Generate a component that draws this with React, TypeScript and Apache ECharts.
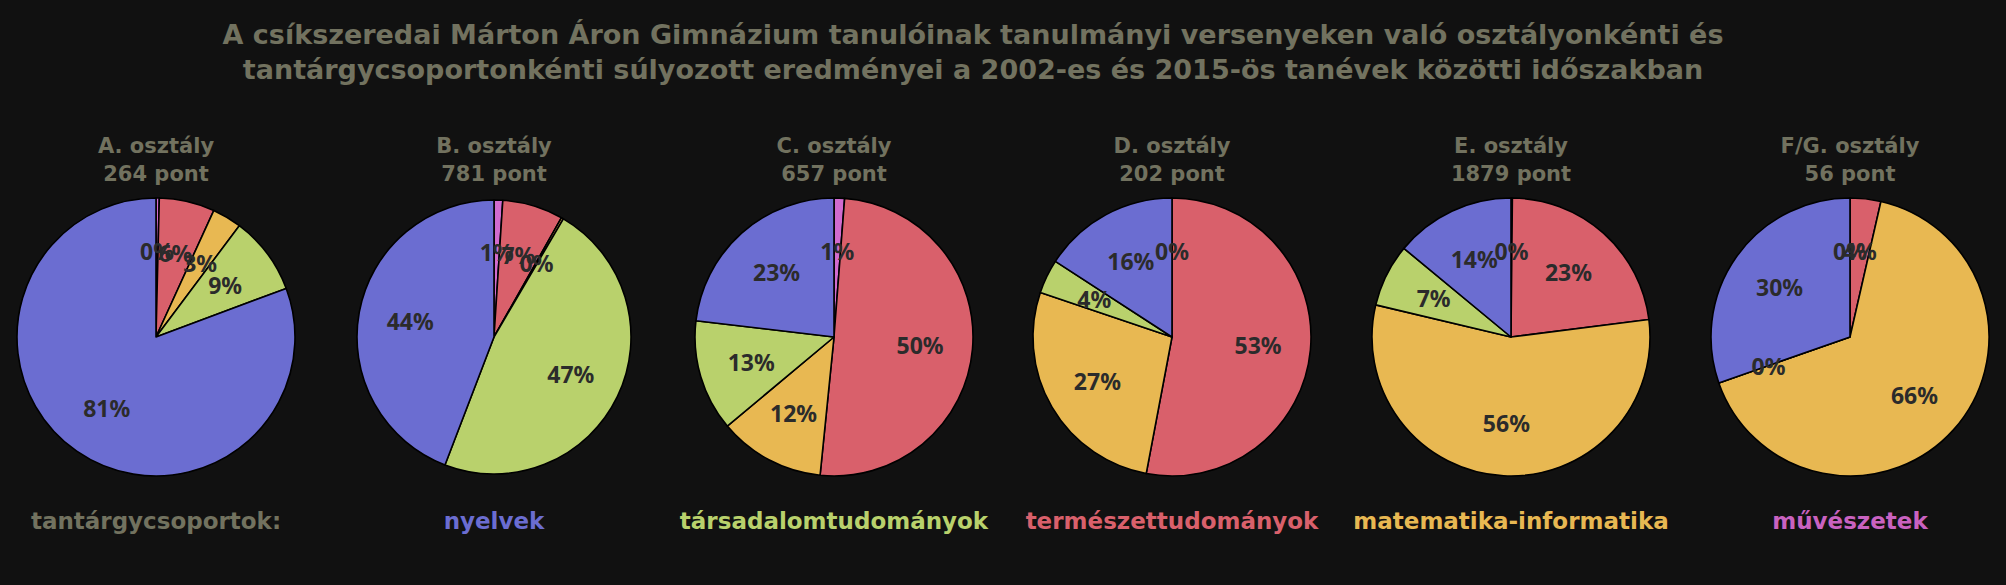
import React, { useEffect, useRef } from "react";
import * as echarts from "echarts";

const titleLines = [
  "A csíkszeredai Márton Áron Gimnázium tanulóinak tanulmányi versenyeken való osztályonkénti és",
  "tantárgycsoportonkénti súlyozott eredményei a 2002-es és 2015-ös tanévek közötti időszakban",
];
const classNames = ["A. osztály", "B. osztály", "C. osztály", "D. osztály", "E. osztály", "F/G. osztály"];
const classTotals = [264, 781, 657, 202, 1879, 56];

// categories in pie order (clockwise from 12 o'clock)
const categories = ["művészetek", "természettudományok", "matematika-informatika", "társadalomtudományok", "nyelvek"];
const muveszetek = [1, 8, 8, 0, 3, 0];
const termeszettudomanyok = [17, 56, 331, 107, 429, 2];
const matematikaInformatika = [9, 2, 81, 55, 1047, 37];
const tarsadalomtudomanyok = [24, 370, 85, 8, 137, 0];
const nyelvek = [213, 345, 152, 32, 263, 17];
const seriesValues = [muveszetek, termeszettudomanyok, matematikaInformatika, tarsadalomtudomanyok, nyelvek];

const legendLabel = "tantárgycsoportok:";
const legendOrder = ["nyelvek", "társadalomtudományok", "természettudományok", "matematika-informatika", "művészetek"];

// styles / layout
const colors: Record<string, string> = {
  "művészetek": "#d26bce",
  "természettudományok": "#d9606b",
  "matematika-informatika": "#e8b852",
  "társadalomtudományok": "#b9d16c",
  "nyelvek": "#6b6dd1",
};
const legendColors: Record<string, string> = {
  "művészetek": "#c962c0",
  "természettudományok": "#d9606b",
  "matematika-informatika": "#e8b852",
  "társadalomtudományok": "#b9d16c",
  "nyelvek": "#6b6dd1",
};
const centersX = [156, 494, 834, 1172, 1511, 1850];
const centerY = 337;
const radii = [139, 137, 139, 139, 139, 139];
const textColor = "#72725f";
const TFONT = "'DejaVu Sans', sans-serif";
const LFONT = "'Noto Sans', sans-serif";

export default function App() {
  const ref = useRef<HTMLDivElement>(null);
  useEffect(() => {
    document.body.style.margin = "0";
    document.body.style.background = "#111111";
    const chart = echarts.init(ref.current!, null, { renderer: "svg" });
    const series: any[] = [];
    const graphic: any[] = [];

    titleLines.forEach((t, i) => {
      graphic.push({
        type: "text",
        x: 973,
        y: 34 + i * 35,
        style: { text: t, fill: textColor, font: `bold 27px ${TFONT}`, textAlign: "center", textVerticalAlign: "middle" },
      });
    });

    classNames.forEach((cn, ci) => {
      const data = categories.map((c, k) => ({
        name: c,
        value: seriesValues[k][ci],
        itemStyle: { color: colors[c] },
      }));
      const r = radii[ci];
      series.push({
        type: "pie",
        center: [centersX[ci], centerY],
        radius: r,
        startAngle: 90,
        clockwise: true,
        avoidLabelOverlap: false,
        silent: true,
        data,
        label: { show: false },
        labelLine: { show: false },
        itemStyle: { borderColor: "#000000", borderWidth: 1.6 },
        emphasis: { disabled: true },
      });
      // one transparent label-only pie per slice so that overlapping labels all stay visible
      categories.forEach((c, k) => {
        series.push({
          type: "pie",
          center: [centersX[ci], centerY],
          radius: [r * 0.2, r],
          startAngle: 90,
          clockwise: true,
          avoidLabelOverlap: false,
          silent: true,
          z: 5,
          labelLayout: { hideOverlap: false },
          data: data.map((d, j) => ({
            name: d.name,
            value: d.value,
            label: { show: j === k },
          })),
          itemStyle: { color: "rgba(0,0,0,0)", borderWidth: 0 },
          label: {
            show: true,
            position: "inside",
            formatter: (p: any) => Math.round(p.percent) + "%",
            color: "#2b2b2b",
            fontFamily: LFONT,
            fontWeight: "bold",
            fontSize: 23,
            overflow: "none",
          },
          labelLine: { show: false },
          emphasis: { disabled: true },
        });
      });
      graphic.push({
        type: "text",
        x: centersX[ci],
        y: 146,
        style: { text: cn, fill: textColor, font: `bold 21px ${TFONT}`, textAlign: "center", textVerticalAlign: "middle" },
      });
      graphic.push({
        type: "text",
        x: centersX[ci],
        y: 174,
        style: { text: classTotals[ci] + " pont", fill: textColor, font: `bold 21px ${TFONT}`, textAlign: "center", textVerticalAlign: "middle" },
      });
    });

    const legendTexts = [legendLabel, ...legendOrder];
    legendTexts.forEach((t, i) => {
      graphic.push({
        type: "text",
        x: centersX[i],
        y: 521,
        style: {
          text: t,
          fill: i === 0 ? textColor : legendColors[t],
          font: `bold 23px ${TFONT}`,
          textAlign: "center",
          textVerticalAlign: "middle",
        },
      });
    });

    chart.setOption({
      animation: false,
      backgroundColor: "#111111",
      series,
      graphic,
    });
    return () => chart.dispose();
  }, []);
  return <div ref={ref} style={{ width: 2006, height: 585 }} />;
}
